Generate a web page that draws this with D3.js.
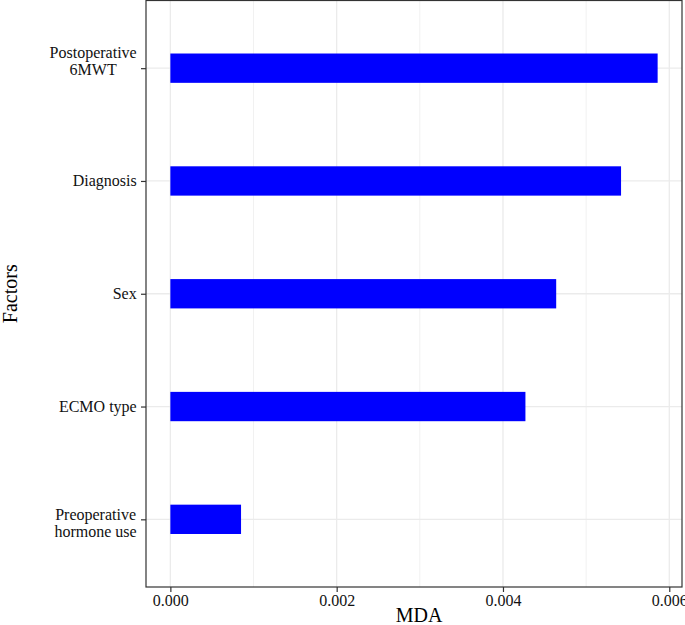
<!DOCTYPE html>
<html>
<head>
<meta charset="utf-8">
<script src="https://cdn.jsdelivr.net/npm/d3@7"></script>
<style>
  body { margin: 0; background: #fff; }
  svg text { font-family: "Liberation Serif", "Times New Roman", serif; }
</style>
</head>
<body>
<div id="main"></div>
<script>
// data
var factors = ["Postoperative\n6MWT", "Diagnosis", "Sex", "ECMO type", "Preoperative\nhormone use"];
var mda = [0.00586, 0.00542, 0.00464, 0.00427, 0.00085];
var xTicks = [0, 0.002, 0.004, 0.006];
var xMinor = [0.001, 0.003, 0.005];

var w = 685,
	h = 625;
var pLeft = 146, pRight = 682, pTop = 0.5, pBottom = 587;
var serif = "Liberation Serif";

var xmax = d3.max(mda);
var pad = xmax * 0.05;
var x = d3.scaleLinear()
	.domain([-pad, xmax + pad])
	.range([pLeft, pRight]);

var y = d3.scalePoint()
	.domain(factors)
	.range([pTop, pBottom])
	.padding(0.6);

var svg = d3.select("#main")
	.append("svg")
	.attr("width", w)
	.attr("height", h);

// grid
svg.selectAll("line.minor")
	.data(xMinor)
	.enter()
	.append("line")
	.attr("x1", d => x(d)).attr("x2", d => x(d))
	.attr("y1", pTop).attr("y2", pBottom)
	.attr("stroke", "#f1f1f1")
	.attr("stroke-width", 1);

svg.selectAll("line.vmajor")
	.data(xTicks)
	.enter()
	.append("line")
	.attr("x1", d => x(d)).attr("x2", d => x(d))
	.attr("y1", pTop).attr("y2", pBottom)
	.attr("stroke", "#ebebeb")
	.attr("stroke-width", 1.3);

svg.selectAll("line.hmajor")
	.data(factors)
	.enter()
	.append("line")
	.attr("x1", pLeft).attr("x2", pRight)
	.attr("y1", d => y(d)).attr("y2", d => y(d))
	.attr("stroke", "#ebebeb")
	.attr("stroke-width", 1.3);

// bars
var bh = y.step() * 0.26;
svg.selectAll("rect.bar")
	.data(factors)
	.enter()
	.append("rect")
	.attr("x", x(0))
	.attr("y", d => y(d) - bh / 2)
	.attr("width", (d, i) => x(mda[i]) - x(0))
	.attr("height", bh)
	.attr("fill", "#0000ff");

// panel border
svg.append("rect")
	.attr("x", pLeft).attr("y", pTop)
	.attr("width", pRight - pLeft).attr("height", pBottom - pTop)
	.attr("fill", "none")
	.attr("stroke", "#333")
	.attr("stroke-width", 1.2);

// x axis
var xAxis = d3.axisBottom(x)
	.tickValues(xTicks)
	.tickFormat(d3.format(".3f"))
	.tickSize(5)
	.tickPadding(3);

var gx = svg.append("g")
	.attr("transform", "translate(0," + pBottom + ")")
	.call(xAxis)
	.attr("font-family", serif)
	.attr("font-size", 16);
gx.select(".domain").remove();
gx.selectAll(".tick line").attr("stroke", "#333").attr("stroke-width", 1.2);
gx.selectAll(".tick text").attr("fill", "#111");

// y axis
var yAxis = d3.axisLeft(y)
	.tickSize(5)
	.tickFormat("");

var gy = svg.append("g")
	.attr("transform", "translate(" + pLeft + ",0)")
	.call(yAxis);
gy.select(".domain").remove();
gy.selectAll(".tick line").attr("stroke", "#333").attr("stroke-width", 1.2);

// multi-line labels sit a bit differently in the original
var shift = { "Postoperative\n6MWT": -10.5, "Preoperative\nhormone use": 0.7 };

factors.forEach(function(f) {
	var lines = f.split("\n");
	var cx = 136.7;
	var t = svg.append("text")
		.attr("font-family", serif)
		.attr("font-size", 16)
		.attr("fill", "#111")
		.attr("text-anchor", lines.length > 1 ? "middle" : "end");
	if (lines.length === 1) {
		t.attr("x", cx).attr("y", y(f) + 5.5).text(f);
	} else {
		// centre lines against each other, right edge at cx
		lines.forEach(function(l, i) {
			t.append("tspan")
				.attr("x", 0)
				.attr("y", y(f) + shift[f] + i * 17.2)
				.text(l);
		});
		var bb = t.node().getBBox();
		t.selectAll("tspan").attr("x", cx - bb.width / 2);
	}
});

// axis titles
svg.append("text")
	.attr("x", (pLeft + pRight) / 2 + 5)
	.attr("y", 622)
	.attr("text-anchor", "middle")
	.attr("font-family", serif)
	.attr("font-size", 20)
	.text("MDA");

svg.append("text")
	.attr("transform", "translate(17," + ((pTop + pBottom) / 2) + ") rotate(-90)")
	.attr("text-anchor", "middle")
	.attr("font-family", serif)
	.attr("font-size", 20)
	.text("Factors");
</script>
</body>
</html>
